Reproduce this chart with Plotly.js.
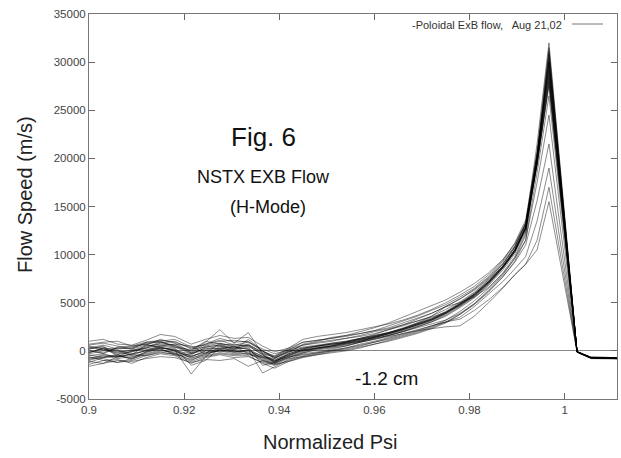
<!DOCTYPE html>
<html>
<head>
<meta charset="utf-8">
<script src="https://cdn.plot.ly/plotly-3.0.1.min.js"></script>
<style>html,body{margin:0;padding:0;background:#fff;}#chart{width:621px;height:458px;}</style>
</head>
<body>
<div id="chart"></div>
<script>
// Normalized Psi sample points
const psi = [0.900,0.903,0.906,0.909,0.912,0.915,0.918,0.9215,0.9245,0.9275,0.9305,0.9335,0.9365,0.939,0.942,0.945,0.948,0.951,0.954,0.957,0.960,0.963,0.966,0.969,0.972,0.975,0.978,0.981,0.984,0.987,0.9895,0.9918,0.9942,0.9967,1.0026,1.0055,1.011];

// Flow speed (m/s), one array per profile
const s1  = [-200,300,100,-400,600,1200,800,-100,700,1100,600,900,0,-600,200,600,900,1100,1300,1500,1800,2200,2600,3100,3600,4300,5100,6100,7400,9000,10800,13200,21500,32000,-100,-650,-700];
const s2  = [-900,-500,-800,-600,-300,100,-200,-1000,-300,0,-300,-200,-1100,-1400,-800,-600,-400,-100,100,400,700,1000,1400,1800,2300,2900,3800,4900,6300,7900,9600,12000,19800,31000,-150,-750,-800];
const s3  = [300,600,200,300,800,900,600,-200,500,800,400,700,-200,-700,0,600,800,1000,1300,1600,2000,2300,2700,3100,3500,4000,4700,5700,7000,8600,10300,12700,20300,30500,-100,-700,-750];
const s4  = [-1400,-1000,-1200,-1000,-500,-200,-300,-900,-500,-200,-400,-300,-900,-1300,-700,-200,100,300,500,900,1200,1600,2000,2500,3000,3700,4600,5600,6900,8600,10300,12700,19800,30000,-50,-700,-800];
const s5  = [1000,1200,700,600,1100,1700,1500,700,1200,1600,1300,1400,500,-100,300,1200,1500,1700,1900,2200,2500,2800,3200,3700,4300,5000,5800,6700,7900,9400,11200,13600,20600,29500,-100,-650,-700];
const s6  = [-500,-300,-700,-300,0,300,100,-2400,-600,500,-100,100,-800,-1200,-500,0,300,500,800,1100,1400,1700,2100,2600,3100,3800,4700,5700,7000,8600,10300,12600,19700,29000,-100,-750,-800];
const s7  = [200,400,-100,0,500,700,600,0,900,2200,800,1900,-300,-600,100,400,600,800,1000,1300,1600,1900,2300,2800,3300,4000,4900,5900,7200,8800,10500,12900,19600,28500,-100,-700,-750];
const s8  = [-700,-800,-1200,-800,-400,0,-100,-500,-200,200,-200,100,-2300,-1700,-900,-300,-100,200,500,900,1300,1600,2000,2500,3000,3600,4500,5500,6800,8400,10100,12400,19300,28000,-150,-800,-850];
const s9  = [400,100,300,200,600,400,0,-300,300,200,500,600,-300,-1000,-200,700,1000,1400,1600,1800,2100,2600,3100,3600,4200,4800,5600,6500,7700,9300,10900,13300,19500,27500,-100,-700,-750];
const s10 = [-100,200,-400,-100,300,600,400,-300,100,300,400,200,-600,-800,-100,300,500,700,900,1200,1500,1900,2300,2800,3300,4000,4900,5900,7200,8800,10400,12800,20200,30800,-100,-700,-750];
const s11 = [-1000,-600,-400,-900,-200,300,200,-600,0,100,0,-100,-700,-1100,-400,100,300,500,700,1000,1400,1800,2300,2900,3600,4600,5000,5600,6600,8000,9600,11500,17500,24500,-100,-700,-750];
const s12 = [600,800,500,200,900,1100,900,300,700,1300,900,1000,0,-700,-100,300,500,700,800,1000,1300,1600,2000,2400,2800,3200,3900,4900,6200,7700,9200,11000,15600,21500,-100,-700,-750];
const s13 = [-600,-1000,-900,-1300,-700,-300,-500,-1300,-700,-400,-700,-600,-1200,-1500,-1000,-500,-200,0,300,700,1000,1400,1800,2200,2600,3000,3500,4600,5900,7200,8500,9800,13500,19000,-100,-700,-800];
const s14 = [0,-200,300,400,700,300,100,-800,-200,0,300,500,-400,-1200,-700,-200,200,400,600,900,1200,1500,1800,2100,2300,2500,2600,3600,5000,6500,7900,9000,11500,17000,-100,-700,-750];
const s15 = [-1600,-1300,-1000,-1100,-800,-600,-700,-1200,-900,-1000,-800,-1600,-1000,-1400,-1100,-600,-300,0,200,500,900,1300,1700,2100,2600,3000,3300,4200,5300,6600,7900,9000,10500,15500,-100,-700,-800];
const s16 = [500,200,-200,100,300,800,1000,200,400,600,700,500,-400,-1100,-500,100,400,600,900,1200,1500,1800,2200,2700,3200,3900,4800,5800,7100,8700,10400,12900,20800,31500,-100,-700,-750];
const s17 = [-1200,-700,-500,-700,-100,400,0,-700,-400,100,-100,0,-500,-1000,-600,-400,-200,100,300,600,900,1200,1600,2000,2500,3200,4100,5200,6500,8100,9800,12200,19600,29800,-100,-700,-800];
const s18 = [100,-300,400,500,900,1000,400,100,1000,700,200,600,-100,-500,300,900,1100,1300,1600,2000,2400,2900,3500,4100,4700,5300,6100,7000,8100,9500,11100,13300,20000,28800,-50,-650,-700];
const s19 = [-400,-700,-500,-800,-100,200,-400,-600,0,-100,0,-400,-700,-900,-400,100,200,400,700,1000,1400,1800,2200,2700,3200,3900,4800,5800,7100,8700,10400,12800,20000,30200,-100,-750,-800];
const s20 = [700,900,1000,500,700,1000,1200,400,600,1000,1100,900,200,-300,100,900,1100,1300,1500,1800,2100,2400,2900,3400,3900,4600,5400,6400,7600,9100,10800,13200,20100,29200,-100,-700,-750];
const s21 = [-300,0,0,-500,100,500,300,-1500,-1000,300,100,400,-1500,-1200,-300,200,500,700,900,1200,1500,1900,2300,2800,3300,4000,4900,5900,7200,8800,10500,12900,19400,27800,-100,-700,-800];
const s22 = [-800,-400,-600,0,200,200,-300,-400,400,600,100,1200,0,-800,0,0,300,500,900,1300,1700,2200,2700,3300,3900,4600,5400,6300,7500,9000,10700,13100,20300,30000,-100,-700,-750];
const s23 = [-200,300,-300,-100,400,900,500,-200,200,500,300,200,-1000,-1300,-600,-100,300,500,800,1100,1400,1800,2200,2700,3200,3900,4800,5800,7100,8700,10300,12700,20300,31200,-150,-750,-800];
const s24 = [200,500,-600,-300,0,500,700,500,-300,800,500,-300,-600,-1100,-300,200,500,800,1000,1300,1600,1900,2400,2900,3400,4100,5000,6000,7300,8800,10500,12800,19300,28300,-100,-700,-750];
const s25 = [-1100,-1300,-600,-400,-500,-100,-400,-1100,-600,-300,-500,-500,-1300,-1800,-1100,-700,-400,-200,0,300,700,1100,1500,1900,2400,3000,3800,4800,6100,7700,9300,11500,18500,26500,-100,-700,-800];

const profiles = [s1,s2,s3,s4,s5,s6,s7,s8,s9,s10,s11,s12,s13,s14,s15,s16,s17,s18,s19,s20,s21,s22,s23,s24,s25];

const xTickVals = [0.9,0.92,0.94,0.96,0.98,1.0];
const xTickText = ['0.9','0.92','0.94','0.96','0.98','1'];
const yTickVals = [-5000,0,5000,10000,15000,20000,25000,30000,35000];
const yTickText = ['-5000','0','5000','10000','15000','20000','25000','30000','35000'];

const FONT = 'Liberation Sans, Arial, Helvetica, sans-serif';

const traces = profiles.map((p, i) => ({
  type: 'scatter', mode: 'lines', x: psi, y: p,
  name: 'Poloidal ExB flow ' + (i + 1),
  line: {color: 'rgba(0,0,0,0.5)', width: 0.9},
  showlegend: false, hoverinfo: 'x+y'
}));

const L = 89, R = 617, T = 14, B = 399;
const px = v => (v - L) / (R - L);
const py = v => (B - v) / (B - T);

const layout = {
  width: 621, height: 458,
  margin: {l: 89, r: 4, t: 14, b: 59, pad: 0},
  paper_bgcolor: '#fff', plot_bgcolor: '#fff',
  font: {family: FONT, color: '#222'},
  showlegend: false,
  xaxis: {
    range: [0.9, 1.011], tickmode: 'array', tickvals: xTickVals, ticktext: xTickText,
    ticks: 'inside', ticklen: 6, tickcolor: '#666', tickwidth: 1,
    showline: true, linecolor: '#777', linewidth: 1, mirror: 'allticks',
    showgrid: false, zeroline: false,
    tickfont: {family: FONT, size: 11.5, color: '#444'}
  },
  yaxis: {
    range: [-5000, 35000], tickmode: 'array', tickvals: yTickVals, ticktext: yTickText,
    ticks: 'inside', ticklen: 6, tickcolor: '#666', tickwidth: 1,
    showline: true, linecolor: '#777', linewidth: 1, mirror: 'allticks',
    showgrid: false, zeroline: true, zerolinecolor: '#888', zerolinewidth: 1,
    tickfont: {family: FONT, size: 11.5, color: '#444'}
  },
  annotations: [
    {text: 'Normalized Psi', xref: 'paper', yref: 'paper', x: px(330), y: py(442), xanchor: 'center', yanchor: 'middle', showarrow: false, font: {family: FONT, size: 20, color: '#222'}},
    {text: 'Flow Speed (m/s)', xref: 'paper', yref: 'paper', x: px(25), y: py(195), xanchor: 'center', yanchor: 'middle', textangle: -90, showarrow: false, font: {family: FONT, size: 20, color: '#222'}},
    {text: 'Fig. 6', xref: 'paper', yref: 'paper', x: px(263), y: py(137), xanchor: 'center', yanchor: 'middle', showarrow: false, font: {family: FONT, size: 26, color: '#111'}},
    {text: 'NSTX EXB Flow', xref: 'paper', yref: 'paper', x: px(263), y: py(177), xanchor: 'center', yanchor: 'middle', showarrow: false, font: {family: FONT, size: 18, color: '#111'}},
    {text: '(H-Mode)', xref: 'paper', yref: 'paper', x: px(268), y: py(207), xanchor: 'center', yanchor: 'middle', showarrow: false, font: {family: FONT, size: 18, color: '#111'}},
    {text: '-1.2 cm', xref: 'paper', yref: 'paper', x: px(386), y: py(378), xanchor: 'center', yanchor: 'middle', showarrow: false, font: {family: FONT, size: 19, color: '#111'}},
    {text: '-Poloidal ExB flow,   Aug 21,02', xref: 'paper', yref: 'paper', x: px(564), y: py(25), xanchor: 'right', yanchor: 'middle', showarrow: false, font: {family: FONT, size: 11, color: '#333'}}
  ],
  shapes: [
    {type: 'line', xref: 'paper', yref: 'paper', x0: px(572), x1: px(603), y0: py(24), y1: py(24), line: {color: '#777', width: 1}}
  ]
};

Plotly.newPlot('chart', traces, layout, {staticPlot: true, displayModeBar: false});
</script>
</body>
</html>
